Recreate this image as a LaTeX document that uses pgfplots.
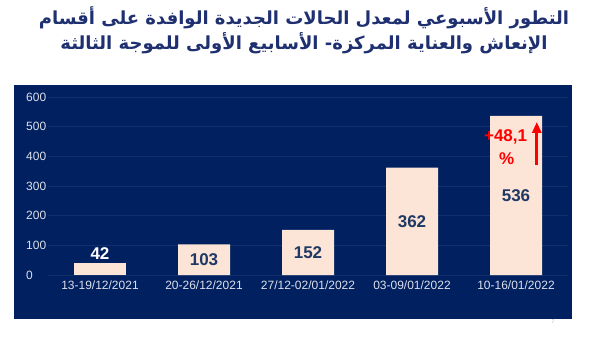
\documentclass[border=0pt]{standalone}
\usepackage{fontspec}
\usepackage{pgfplots}
\pgfplotsset{compat=1.18}
\usetikzlibrary{arrows.meta}
\setmainfont{Liberation Sans}
\newfontfamily\arabicfont[Script=Arabic]{DejaVu Sans}
\TeXXeTstate=1
\definecolor{panel}{HTML}{002060}
\definecolor{barfill}{HTML}{FCE4D6}
\definecolor{titlec}{HTML}{1F3070}
\definecolor{valc}{HTML}{1F3864}
\definecolor{gridc}{HTML}{13306E}
\definecolor{tickc}{HTML}{DDE0EA}
\begin{document}
\begin{tikzpicture}[x=1pt,y=1pt]
\useasboundingbox[fill=white] (0,0) rectangle (600,338);
\fill[panel] (14,19) rectangle (572,253);
\node[text=titlec, font=\arabicfont\bfseries\fontsize{18}{22}\selectfont, inner sep=0pt] at (304,320) {\beginR التطور الأسبوعي لمعدل الحالات الجديدة الوافدة على أقسام\endR};
\node[text=titlec, font=\arabicfont\bfseries\fontsize{18}{22}\selectfont, inner sep=0pt] at (304,295) {\beginR الإنعاش والعناية المركزة- الأسابيع الأولى للموجة الثالثة\endR};
\node[text=gray!60, font=\fontsize{5}{6}\selectfont] at (553,16) {7};
\begin{scope}[shift={(48pt,63pt)}]
\begin{axis}[
  at={(0pt,0pt)}, anchor=south west,
  scale only axis, width=520pt, height=178pt,
  xmin=-0.5, xmax=4.5, ymin=0, ymax=600,
  ytick={0,100,...,600},
  xtick={0,1,2,3,4},
  xticklabels={13-19/12/2021,20-26/12/2021,27/12-02/01/2022,03-09/01/2022,10-16/01/2022},
  ymajorgrids, grid style={gridc, line width=0.7pt},
  axis line style={draw=none},
  major tick length=0pt,
  tick label style={text=tickc, font=\fontsize{12}{14}\selectfont},
  yticklabel style={anchor=west, inner sep=0pt, xshift=-22pt},
  xticklabel style={anchor=north, inner sep=0pt, yshift=-6pt},
  /pgf/number format/assume math mode=true,
  clip=false,
]
\addplot[ybar, bar width=52pt, bar shift=0pt, fill=barfill, draw=none,
  nodes near coords,
  every node near coord/.append style={text=white, font=\bfseries\fontsize{17}{20}\selectfont, anchor=south, inner sep=1pt, yshift=2pt}]
  coordinates {(0,42)};
\addplot[ybar, bar width=52pt, bar shift=0pt, fill=barfill, draw=none,
  visualization depends on={rawy \as \rawy},
  nodes near coords,
  every node near coord/.append style={text=valc, font=\bfseries\fontsize{17}{20}\selectfont, anchor=center, yshift=-\rawy*0.148333pt}]
  coordinates {(1,103) (2,152) (3,362) (4,536)};
\node[text=red, font=\bfseries\fontsize{17}{20}\selectfont, inner sep=0pt] at (axis cs:3.9,465) {+48,1};
\node[text=red, font=\bfseries\fontsize{17}{20}\selectfont, inner sep=0pt] at (axis cs:3.91,391) {\%};
\draw[red, line width=3pt, -{Triangle[length=11pt,width=9pt]}] (axis cs:4.2,371) -- (axis cs:4.2,516);
\end{axis}
\end{scope}
\end{tikzpicture}
\end{document}
